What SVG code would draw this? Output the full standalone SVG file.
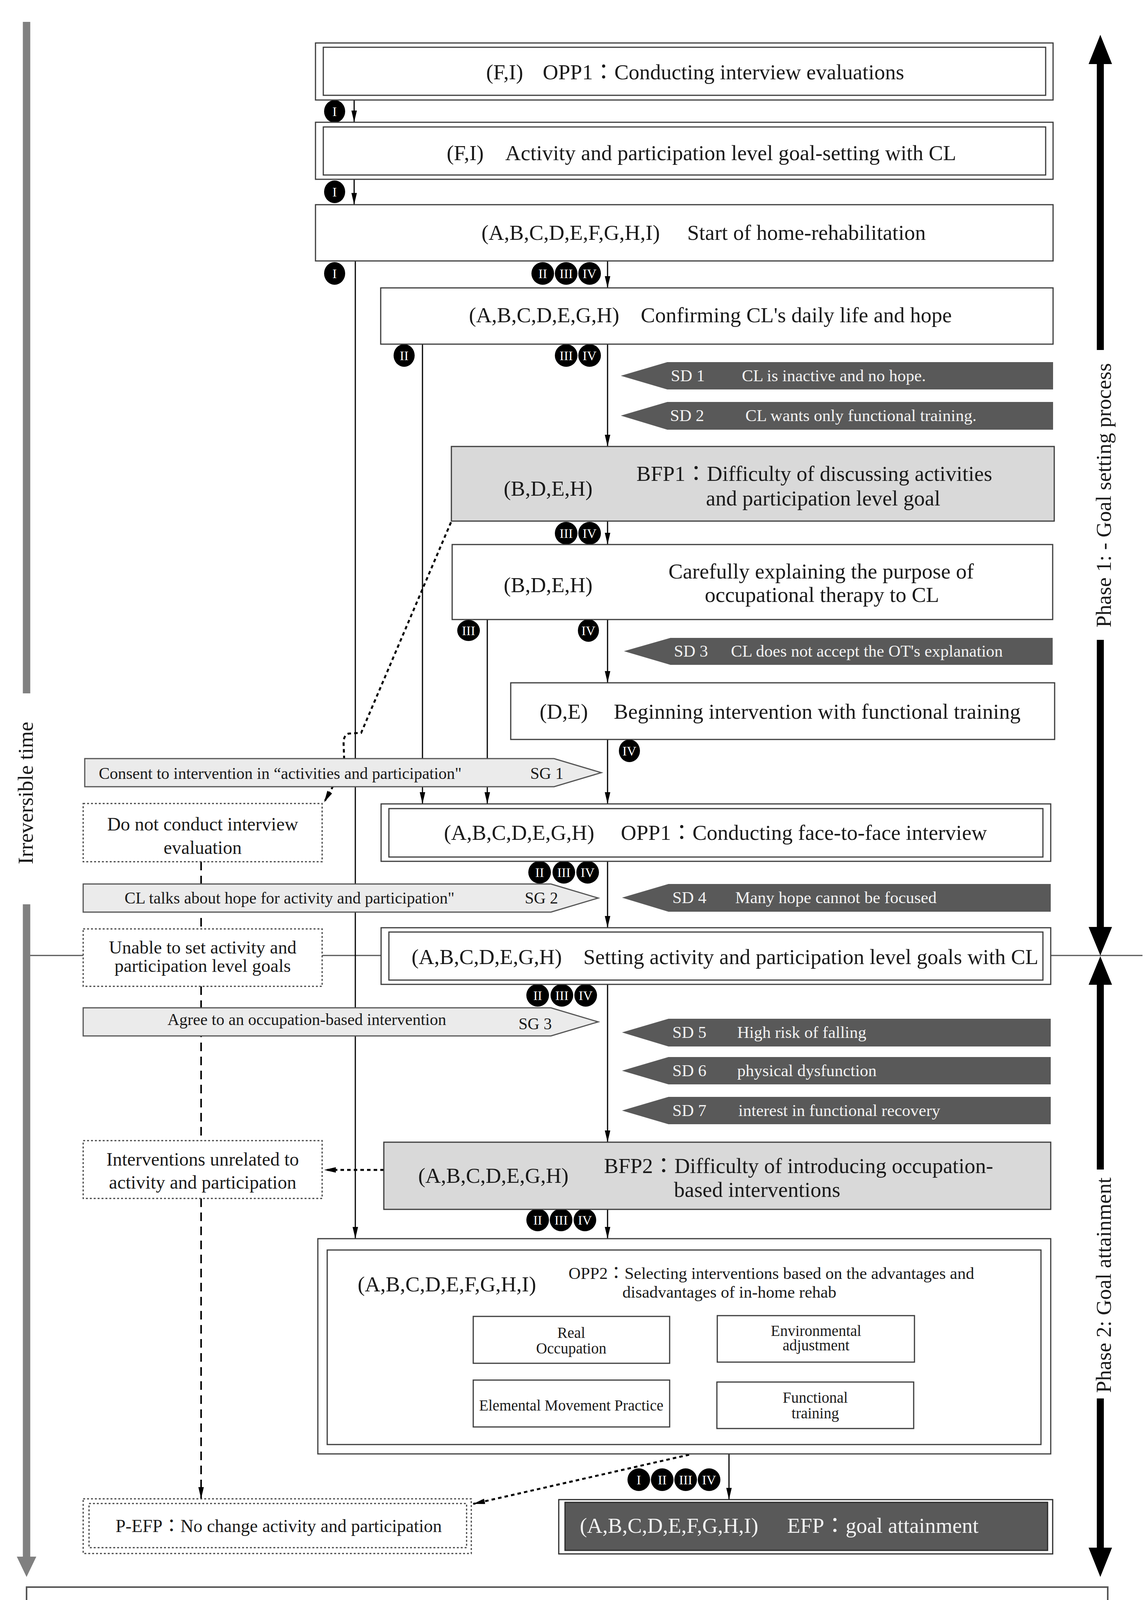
<svg xmlns="http://www.w3.org/2000/svg" width="2935" height="4337" viewBox="0 0 2935 4337">
<defs>
<style>
.box{fill:#fff;stroke:#3c3c3c;stroke-width:3}
.bfp{fill:#d9d9d9;stroke:#3c3c3c;stroke-width:3}
.efpo{fill:#fff;stroke:#2a2a2a;stroke-width:3}
.efpi{fill:#595959;stroke:#2a2a2a;stroke-width:3}
.sg{fill:#ebebeb;stroke:#555;stroke-width:3}
.sd{fill:#595959}
.vbox{fill:#fff;stroke:#444;stroke-width:3;stroke-dasharray:5 5}
.path{fill:none;stroke:#000;stroke-width:3}
.vpath{fill:none;stroke:#000;stroke-width:5;stroke-dasharray:9 8}
.vdash{fill:none;stroke:#000;stroke-width:4;stroke-dasharray:22 14}
.t{font-family:"Liberation Serif","Noto Sans CJK JP",serif;fill:#1a1a1a}
.w{fill:#f2f2f2}
.f55{font-size:55px}
.f48{font-size:48px}
.f47{font-size:47px}
.f46{font-size:46px}
.f43{font-size:43px}
.f42{font-size:42px}
.f39{font-size:39px}
.mid{text-anchor:middle}
.bdg{fill:#000}
.bt{font-family:"Liberation Serif",serif;font-size:34px;fill:#fff;text-anchor:middle}
</style>
<marker id="ah" viewBox="0 0 30 14" refX="30" refY="7" markerWidth="30" markerHeight="14" markerUnits="userSpaceOnUse" orient="auto"><path d="M0,0 L30,7 L0,14 z" fill="#000"/></marker>
</defs>
<rect width="2935" height="4337" fill="#fff"/>

<g id="axes">
<line x1="77" y1="2446" x2="2926" y2="2446" stroke="#555" stroke-width="3"/>
<line x1="68" y1="56" x2="68" y2="1775" stroke="#808080" stroke-width="19"/>
<line x1="68" y1="2315" x2="68" y2="3985" stroke="#808080" stroke-width="19"/>
<polygon points="43,3985 93,3985 68,4037" fill="#808080"/>
<text class="t f55 mid" transform="translate(84,2030) rotate(-90)">Irreversible time</text>
<line x1="2818" y1="160" x2="2818" y2="896" stroke="#000" stroke-width="18"/>
<line x1="2818" y1="1638" x2="2818" y2="2375" stroke="#000" stroke-width="18"/>
<polygon points="2788,164 2848,164 2818,89" fill="#000"/>
<polygon points="2788,2373 2848,2373 2818,2446" fill="#000"/>
<text class="t f55 mid" transform="translate(2845,1268) rotate(-90)">Phase 1: - Goal setting process</text>
<line x1="2818" y1="2518" x2="2818" y2="2994" stroke="#000" stroke-width="18"/>
<line x1="2818" y1="3580" x2="2818" y2="3966" stroke="#000" stroke-width="18"/>
<polygon points="2788,2521 2848,2521 2818,2448" fill="#000"/>
<polygon points="2788,3962 2848,3962 2818,4037" fill="#000"/>
<text class="t f55 mid" transform="translate(2845,3290) rotate(-90)">Phase 2: Goal attainment</text>
</g>

<g id="connectors">
<line class="path" x1="907" y1="256" x2="907" y2="313" marker-end="url(#ah)"/>
<line class="path" x1="907" y1="459" x2="907" y2="524" marker-end="url(#ah)"/>
<line class="path" x1="910" y1="668" x2="910" y2="3171" marker-end="url(#ah)"/>
<line class="path" x1="1556" y1="668" x2="1556" y2="737" marker-end="url(#ah)"/>
<line class="path" x1="1082" y1="881" x2="1082" y2="2058" marker-end="url(#ah)"/>
<line class="path" x1="1556" y1="881" x2="1556" y2="1143" marker-end="url(#ah)"/>
<line class="path" x1="1556" y1="1334" x2="1556" y2="1394" marker-end="url(#ah)"/>
<line class="path" x1="1248" y1="1586" x2="1248" y2="2058" marker-end="url(#ah)"/>
<line class="path" x1="1556" y1="1586" x2="1556" y2="1748" marker-end="url(#ah)"/>
<line class="path" x1="1556" y1="1893" x2="1556" y2="2058" marker-end="url(#ah)"/>
<line class="path" x1="1556" y1="2205" x2="1556" y2="2375" marker-end="url(#ah)"/>
<line class="path" x1="1556" y1="2520" x2="1556" y2="2924" marker-end="url(#ah)"/>
<line class="path" x1="1556" y1="3096" x2="1556" y2="3171" marker-end="url(#ah)"/>
<line class="path" x1="1867" y1="3722" x2="1867" y2="3839" marker-end="url(#ah)"/>
<path class="vpath" d="M1155,1337 L925,1876 L893,1878 Q879,1882 880,1905 L882,1960 L830,2054" marker-end="url(#ah)"/>
<line class="vdash" x1="515" y1="2206" x2="515" y2="2378"/>
<line class="vdash" x1="515" y1="2525" x2="515" y2="2920"/>
<line class="vdash" x1="515" y1="3068" x2="515" y2="3837" marker-end="url(#ah)"/>
<line class="vpath" x1="983" y1="2995" x2="830" y2="2995" marker-end="url(#ah)"/>
<path class="vpath" d="M1765,3724 L1212,3850" marker-end="url(#ah)"/>
<line x1="1715" y1="3403" x2="1837" y2="3403" stroke="#000" stroke-width="5"/>
<line x1="1715" y1="3646" x2="1836" y2="3646" stroke="#000" stroke-width="5"/>
<line x1="1489" y1="3490" x2="1489" y2="3533" stroke="#000" stroke-width="3"/>
<line x1="2101" y1="3487" x2="2101" y2="3538" stroke="#000" stroke-width="3"/>
<line x1="1715" y1="3477" x2="1836" y2="3555" stroke="#000" stroke-width="4"/>
<line x1="1837" y1="3473" x2="1715" y2="3560" stroke="#000" stroke-width="4"/>
</g>

<g id="badges">
<ellipse class="bdg" cx="857" cy="285" rx="27" ry="29"/><text class="bt" x="857" y="297">I</text>
<ellipse class="bdg" cx="857" cy="491" rx="27" ry="29"/><text class="bt" x="857" y="503">I</text>
<ellipse class="bdg" cx="857" cy="700" rx="27" ry="29"/><text class="bt" x="857" y="712">I</text>
<ellipse class="bdg" cx="1390" cy="700" rx="29" ry="29"/><text class="bt" x="1390" y="712">II</text>
<ellipse class="bdg" cx="1450" cy="700" rx="29" ry="29"/><text class="bt" x="1450" y="712">III</text>
<ellipse class="bdg" cx="1510" cy="700" rx="29" ry="29"/><text class="bt" x="1510" y="712">IV</text>
<ellipse class="bdg" cx="1035" cy="910" rx="27" ry="29"/><text class="bt" x="1035" y="922">II</text>
<ellipse class="bdg" cx="1450" cy="910" rx="29" ry="29"/><text class="bt" x="1450" y="922">III</text>
<ellipse class="bdg" cx="1510" cy="910" rx="29" ry="29"/><text class="bt" x="1510" y="922">IV</text>
<ellipse class="bdg" cx="1450" cy="1365" rx="29" ry="29"/><text class="bt" x="1450" y="1377">III</text>
<ellipse class="bdg" cx="1510" cy="1365" rx="29" ry="29"/><text class="bt" x="1510" y="1377">IV</text>
<ellipse class="bdg" cx="1200" cy="1614" rx="29" ry="27"/><text class="bt" x="1200" y="1626">III</text>
<ellipse class="bdg" cx="1507" cy="1614" rx="27" ry="29"/><text class="bt" x="1507" y="1626">IV</text>
<ellipse class="bdg" cx="1612" cy="1922" rx="27" ry="29"/><text class="bt" x="1612" y="1934">IV</text>
<ellipse class="bdg" cx="1382" cy="2233" rx="29" ry="29"/><text class="bt" x="1382" y="2245">II</text>
<ellipse class="bdg" cx="1444" cy="2233" rx="29" ry="29"/><text class="bt" x="1444" y="2245">III</text>
<ellipse class="bdg" cx="1505" cy="2233" rx="29" ry="29"/><text class="bt" x="1505" y="2245">IV</text>
<ellipse class="bdg" cx="1377" cy="2548" rx="29" ry="29"/><text class="bt" x="1377" y="2560">II</text>
<ellipse class="bdg" cx="1439" cy="2548" rx="29" ry="29"/><text class="bt" x="1439" y="2560">III</text>
<ellipse class="bdg" cx="1500" cy="2548" rx="29" ry="29"/><text class="bt" x="1500" y="2560">IV</text>
<ellipse class="bdg" cx="1377" cy="3123" rx="29" ry="29"/><text class="bt" x="1377" y="3135">II</text>
<ellipse class="bdg" cx="1437" cy="3123" rx="29" ry="29"/><text class="bt" x="1437" y="3135">III</text>
<ellipse class="bdg" cx="1498" cy="3123" rx="29" ry="29"/><text class="bt" x="1498" y="3135">IV</text>
<ellipse class="bdg" cx="1636" cy="3788" rx="29" ry="29"/><text class="bt" x="1636" y="3800">I</text>
<ellipse class="bdg" cx="1696" cy="3788" rx="29" ry="29"/><text class="bt" x="1696" y="3800">II</text>
<ellipse class="bdg" cx="1756" cy="3788" rx="29" ry="29"/><text class="bt" x="1756" y="3800">III</text>
<ellipse class="bdg" cx="1816" cy="3788" rx="29" ry="29"/><text class="bt" x="1816" y="3800">IV</text>
</g>

<g id="n-opp1a">
<rect class="box" x="808" y="110" width="1889" height="146"/>
<rect class="box" x="828" y="121" width="1850" height="123"/>
<text class="t f55" y="203"><tspan x="1245">(F,I)</tspan><tspan x="1390">OPP1：Conducting interview evaluations</tspan></text>
</g>
<g id="n-goalsetting-fi">
<rect class="box" x="808" y="313" width="1889" height="146"/>
<rect class="box" x="828" y="325" width="1850" height="123"/>
<text class="t f55" y="410"><tspan x="1144">(F,I)</tspan><tspan x="1294">Activity and participation level goal-setting with CL</tspan></text>
</g>
<g id="n-start">
<rect class="box" x="808" y="524" width="1889" height="144"/>
<text class="t f55" y="614"><tspan x="1233">(A,B,C,D,E,F,G,H,I)</tspan><tspan x="1760">Start of home-rehabilitation</tspan></text>
</g>
<g id="n-confirm">
<rect class="box" x="975" y="737" width="1722" height="144"/>
<text class="t f55" y="825"><tspan x="1201">(A,B,C,D,E,G,H)</tspan><tspan x="1641">Confirming CL's daily life and hope</tspan></text>
</g>
<g id="sd1"><polygon class="sd" points="1590,962 1709,927 2697,927 2697,997 1709,997"/><text class="t w f43" y="976"><tspan x="1718">SD 1</tspan><tspan x="1900">CL is inactive and no hope.</tspan></text></g>
<g id="sd2"><polygon class="sd" points="1590,1064 1709,1029 2697,1029 2697,1100 1709,1100"/><text class="t w f43" y="1078"><tspan x="1716">SD 2</tspan><tspan x="1909">CL wants only functional training.</tspan></text></g>
<g id="n-bfp1">
<rect class="bfp" x="1156" y="1143" width="1544" height="191"/>
<text class="t f55" x="1290" y="1269">(B,D,E,H)</text>
<text class="t f55" x="1630" y="1231">BFP1：Difficulty of discussing activities</text>
<text class="t f55" x="1808" y="1294">and participation level goal</text>
</g>
<g id="n-explain">
<rect class="box" x="1158" y="1394" width="1538" height="192"/>
<text class="t f55" x="1290" y="1516">(B,D,E,H)</text>
<text class="t f55" x="1712" y="1481">Carefully explaining the purpose of</text>
<text class="t f55" x="1805" y="1541">occupational therapy to CL</text>
</g>
<g id="sd3"><polygon class="sd" points="1598,1667 1717,1633 2696,1633 2696,1702 1717,1702"/><text class="t w f43" y="1681"><tspan x="1726">SD 3</tspan><tspan x="1872">CL does not accept the OT's explanation</tspan></text></g>
<g id="n-begin">
<rect class="box" x="1308" y="1748" width="1393" height="145"/>
<text class="t f55" y="1840"><tspan x="1382">(D,E)</tspan><tspan x="1572">Beginning intervention with functional training</tspan></text>
</g>
<g id="sg1"><polygon class="sg" points="217,1942 1419,1942 1540,1978 1419,2014 217,2014"/><text class="t f42" y="1994"><tspan x="253">Consent to intervention in “activities and participation"</tspan><tspan x="1358">SG 1</tspan></text></g>
<g id="v-nointerview">
<rect class="vbox" x="213" y="2057" width="612" height="149"/>
<text class="t f48 mid" x="519" y="2126">Do not conduct interview</text>
<text class="t f48 mid" x="519" y="2186">evaluation</text>
</g>
<g id="n-opp1b">
<rect class="box" x="976" y="2058" width="1715" height="147"/>
<rect class="box" x="996" y="2070" width="1675" height="124"/>
<text class="t f55" y="2150"><tspan x="1137">(A,B,C,D,E,G,H)</tspan><tspan x="1590">OPP1：Conducting face-to-face interview</tspan></text>
</g>
<g id="sg2"><polygon class="sg" points="213,2263 1411,2263 1532,2299 1411,2335 213,2335"/><text class="t f42" y="2313"><tspan x="319">CL talks about hope for activity and participation"</tspan><tspan x="1344">SG 2</tspan></text></g>
<g id="sd4"><polygon class="sd" points="1593,2298 1712,2263 2691,2263 2691,2334 1712,2334"/><text class="t w f43" y="2312"><tspan x="1722">SD 4</tspan><tspan x="1883">Many hope cannot be focused</tspan></text></g>
<g id="v-unable">
<rect class="vbox" x="213" y="2378" width="612" height="147"/>
<text class="t f47 mid" x="519" y="2441">Unable to set activity and</text>
<text class="t f47 mid" x="519" y="2488">participation level goals</text>
</g>
<g id="n-setting">
<rect class="box" x="976" y="2375" width="1715" height="145"/>
<rect class="box" x="996" y="2386" width="1675" height="123"/>
<text class="t f55" y="2468"><tspan x="1054">(A,B,C,D,E,G,H)</tspan><tspan x="1494">Setting activity and participation level goals with CL</tspan></text>
</g>
<g id="sg3"><polygon class="sg" points="213,2580 1411,2580 1532,2616 1411,2652 213,2652"/><text class="t f42" x="429" y="2624">Agree to an occupation-based intervention</text><text class="t f42" x="1328" y="2635">SG 3</text></g>
<g id="sd5"><polygon class="sd" points="1593,2643 1712,2608 2691,2608 2691,2679 1712,2679"/><text class="t w f43" y="2657"><tspan x="1722">SD 5</tspan><tspan x="1888">High risk of falling</tspan></text></g>
<g id="sd6"><polygon class="sd" points="1593,2741 1712,2706 2691,2706 2691,2776 1712,2776"/><text class="t w f43" y="2755"><tspan x="1722">SD 6</tspan><tspan x="1888">physical dysfunction</tspan></text></g>
<g id="sd7"><polygon class="sd" points="1593,2843 1712,2808 2691,2808 2691,2878 1712,2878"/><text class="t w f43" y="2857"><tspan x="1722">SD 7</tspan><tspan x="1891">interest in functional recovery</tspan></text></g>
<g id="v-unrelated">
<rect class="vbox" x="213" y="2920" width="612" height="148"/>
<text class="t f48 mid" x="519" y="2984">Interventions unrelated to</text>
<text class="t f48 mid" x="519" y="3043">activity and participation</text>
</g>
<g id="n-bfp2">
<rect class="bfp" x="983" y="2924" width="1708" height="172"/>
<text class="t f55" x="1071" y="3028">(A,B,C,D,E,G,H)</text>
<text class="t f55" x="1547" y="3003">BFP2：Difficulty of introducing occupation-</text>
<text class="t f55" x="1726" y="3064">based interventions</text>
</g>
<g id="n-opp2">
<rect class="box" x="814" y="3171" width="1877" height="551"/>
<rect class="box" x="838" y="3200" width="1828" height="498"/>
<text class="t f55" x="916" y="3306">(A,B,C,D,E,F,G,H,I)</text>
<text class="t f43" x="1456" y="3274">OPP2：Selecting interventions based on the advantages and</text>
<text class="t f43" x="1594" y="3322">disadvantages of in-home rehab</text>
</g>
<g id="n-real">
<rect class="box" x="1212" y="3370" width="503" height="120"/>
<text class="t f39 mid" x="1463" y="3425">Real</text>
<text class="t f39 mid" x="1463" y="3465">Occupation</text>
</g>
<g id="n-env">
<rect class="box" x="1837" y="3368" width="505" height="119"/>
<text class="t f39 mid" x="2090" y="3420">Environmental</text>
<text class="t f39 mid" x="2090" y="3457">adjustment</text>
</g>
<g id="n-elemental">
<rect class="box" x="1212" y="3533" width="503" height="120"/>
<text class="t f39 mid" x="1463" y="3611">Elemental Movement Practice</text>
</g>
<g id="n-functional">
<rect class="box" x="1836" y="3538" width="504" height="119"/>
<text class="t f39 mid" x="2088" y="3591">Functional</text>
<text class="t f39 mid" x="2088" y="3631">training</text>
</g>
<g id="v-pefp">
<rect class="vbox" x="213" y="3837" width="994" height="140"/>
<rect class="vbox" x="228" y="3849" width="967" height="113"/>
<text class="t f46" x="296" y="3922">P-EFP：No change activity and participation</text>
</g>
<g id="n-efp">
<rect class="efpo" x="1431" y="3839" width="1265" height="139"/>
<rect class="efpi" x="1447" y="3846" width="1236" height="123"/>
<text class="t w f55" y="3924"><tspan x="1485">(A,B,C,D,E,F,G,H,I)</tspan><tspan x="2016">EFP：goal attainment</tspan></text>
</g>

<g id="legend">
<rect x="68" y="4063" width="2769" height="247" fill="#fff" stroke="#555" stroke-width="4"/>
<line x1="141" y1="4140" x2="203" y2="4140" stroke="#808080" stroke-width="16"/>
<polygon points="200,4118 225,4140 200,4162" fill="#808080"/>
<text class="t f48" x="246" y="4156">Irreversible time</text>
<line x1="650" y1="4140" x2="724" y2="4140" stroke="#000" stroke-width="14"/>
<polygon points="628,4140 656,4116 656,4164" fill="#000"/>
<polygon points="746,4140 718,4116 718,4164" fill="#000"/>
<text class="t f48" x="773" y="4156">Phase</text>
<line x1="935" y1="4140" x2="1028" y2="4140" stroke="#000" stroke-width="10"/>
<polygon points="1024,4118 1050,4140 1024,4162" fill="#000"/>
<text class="t f48" x="1077" y="4156">Experience pathway</text>
<rect class="box" x="1532" y="4110" width="91" height="59"/>
<text class="t f48" x="1654" y="4156">Experience</text>
<rect class="box" x="1936" y="4110" width="92" height="59"/>
<rect class="box" x="1944" y="4117" width="76" height="45"/>
<text class="t f48" x="2065" y="4156">OPP</text>
<rect class="bfp" x="2219" y="4110" width="91" height="59"/>
<text class="t f48" x="2350" y="4156">BFP</text>
<rect class="efpi" x="2488" y="4110" width="80" height="59"/>
<text class="t f48" x="2599" y="4156">EFP</text>
<rect class="vbox" x="141" y="4213" width="87" height="59"/>
<text class="t f48" x="254" y="4259">Virtual experience</text>
<line class="vpath" x1="655" y1="4243" x2="760" y2="4243"/>
<polygon points="757,4225 779,4243 757,4261" fill="#000"/>
<text class="t f48" x="810" y="4259">Virtual pathway</text>
<rect class="vbox" x="1177" y="4213" width="91" height="59"/>
<rect class="vbox" x="1185" y="4220" width="75" height="45"/>
<text class="t f48" x="1313" y="4259">P-EFP</text>
<polygon class="sg" points="1510,4213 1605,4213 1641,4243 1605,4272 1510,4272"/>
<text class="t f48" x="1673" y="4259">SG</text>
<polygon class="sd" points="1790,4243 1826,4213 1917,4213 1917,4272 1826,4272"/>
<text class="t f48" x="1946" y="4259">SD</text>
<ellipse class="bdg" cx="2092" cy="4243" rx="30" ry="31"/><text class="bt" x="2092" y="4255">I</text>
<ellipse class="bdg" cx="2155" cy="4243" rx="30" ry="31"/><text class="bt" x="2155" y="4255">II</text>
<ellipse class="bdg" cx="2218" cy="4243" rx="30" ry="31"/><text class="bt" x="2218" y="4255">III</text>
<ellipse class="bdg" cx="2281" cy="4243" rx="30" ry="31"/><text class="bt" x="2281" y="4255">IV</text>
<text class="t f48" x="2346" y="4259">Typology of pathways</text>
</g>
</svg>
